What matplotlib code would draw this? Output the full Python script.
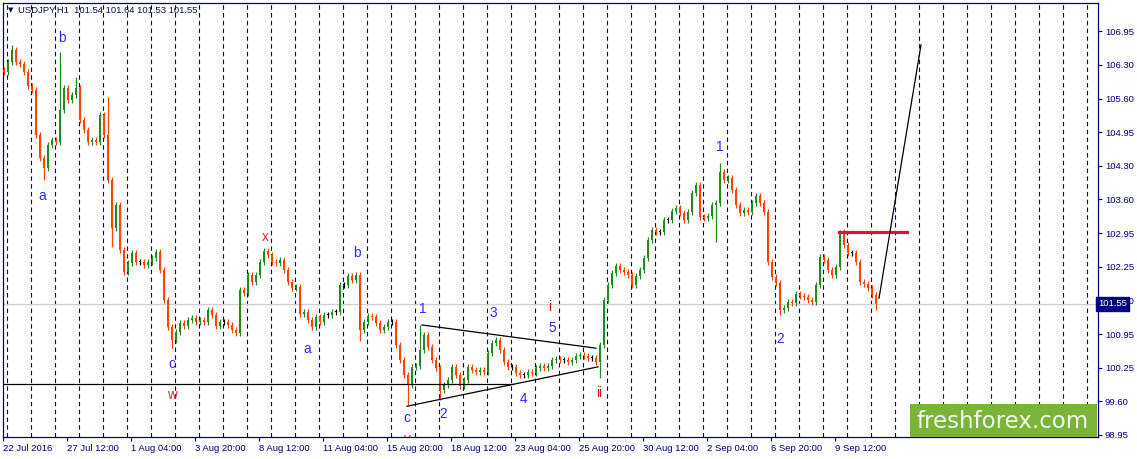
import matplotlib
matplotlib.use("Agg")
import matplotlib.pyplot as plt
from matplotlib.patches import Rectangle
import numpy as np

plt.rcParams['font.family'] = ['Liberation Sans', 'DejaVu Sans']

closes = [
    106.14, 106.34, 106.57, 106.34, 106.30, 106.14, 105.86, 105.78, 104.89, 104.44,
    104.24, 104.69, 104.79, 104.75, 105.39, 105.82, 105.58, 105.68, 105.82, 105.19,
    104.99, 104.75, 104.79, 104.75, 105.29, 104.89, 104.00, 103.05, 103.51, 102.61,
    102.18, 102.36, 102.55, 102.38, 102.38, 102.32, 102.38, 102.45, 102.57, 102.22,
    101.62, 101.09, 100.83, 100.99, 101.17, 101.11, 101.23, 101.27, 101.19, 101.23,
    101.19, 101.43, 101.33, 101.11, 101.19, 101.19, 101.13, 101.03, 100.97, 101.82,
    101.76, 102.12, 101.98, 102.12, 102.38, 102.59, 102.51, 102.38, 102.36, 102.42,
    102.22, 101.98, 101.86, 101.88, 101.35, 101.39, 101.23, 101.09, 101.29, 101.19,
    101.33, 101.33, 101.39, 101.39, 101.92, 101.92, 102.10, 102.02, 102.12, 101.03,
    101.19, 101.31, 101.29, 101.17, 101.03, 101.09, 101.19, 101.19, 100.73, 100.43,
    100.14, 99.94, 100.30, 100.32, 100.63, 100.93, 100.69, 100.43, 100.28, 99.84,
    99.94, 100.04, 100.30, 100.14, 99.92, 100.04, 100.30, 100.24, 100.20, 100.24,
    100.20, 100.57, 100.77, 100.83, 100.63, 100.40, 100.30, 100.30, 100.18, 100.14,
    100.14, 100.20, 100.18, 100.28, 100.32, 100.28, 100.32, 100.43, 100.45, 100.43,
    100.43, 100.40, 100.43, 100.51, 100.53, 100.51, 100.47, 100.47, 100.40, 100.73,
    101.62, 101.92, 102.16, 102.30, 102.22, 102.18, 102.12, 101.92, 102.10, 102.22,
    102.45, 102.81, 103.01, 102.97, 102.97, 103.21, 103.21, 103.39, 103.44, 103.35,
    103.21, 103.37, 103.74, 103.90, 103.27, 103.25, 103.29, 103.51, 103.54, 104.16,
    104.00, 104.04, 103.80, 103.51, 103.35, 103.41, 103.37, 103.54, 103.68, 103.54,
    103.37, 102.38, 102.08, 101.96, 101.43, 101.47, 101.58, 101.56, 101.74, 101.70,
    101.68, 101.62, 101.58, 101.92, 102.47, 102.42, 102.22, 102.12, 102.28, 102.97,
    102.71, 102.55, 102.55, 102.38, 101.98, 101.94, 101.86, 101.72, 101.55,
]
step = 4  # bars per sample
# notable wick extremes (sample index -> price)
spike_highs = {2: 106.67, 14: 106.53, 18: 106.04, 26: 105.64, 65: 102.66,
               104: 101.13, 123: 100.89, 179: 104.34, 209: 103.01}
spike_lows = {10: 104.00, 27: 102.68, 42: 100.67, 89: 100.81, 101: 99.54,
              109: 99.64, 149: 100.08, 178: 102.77, 194: 101.33, 218: 101.43}

last_price = 101.55
header = "USDJPY,H1  101.54 101.64 101.53 101.55"

price_ticks = [98.95 + k * 8 / 12 for k in range(13)]
price_labels = ["98.95", "99.60", "100.25", "100.95", "101.60", "102.25", "102.95",
                "103.60", "104.30", "104.95", "105.60", "106.30", "106.95"]
date_labels = ["22 Jul 2016", "27 Jul 12:00", "1 Aug 04:00", "3 Aug 20:00", "8 Aug 12:00",
               "11 Aug 04:00", "15 Aug 20:00", "18 Aug 12:00", "23 Aug 04:00", "25 Aug 20:00",
               "30 Aug 12:00", "2 Sep 04:00", "6 Sep 20:00", "9 Sep 12:00"]
bars_per_label = 64
bars_per_day = 24

# wave marks: (text, bar, price, colour)
BLUE = "#2a2aff"
RED = "#f0203a"
DARKRED = "#d81010"
waves = [
    ("b", 59, 106.81, BLUE), ("a", 39, 103.68, BLUE), ("c", 169, 100.36, BLUE),
    ("w", 169, 99.74, RED), ("x", 262, 102.87, RED), ("a", 304, 100.65, BLUE),
    ("b", 354, 102.55, BLUE), ("1", 420, 101.45, BLUE), ("3", 490, 101.36, BLUE),
    ("i", 547, 101.48, DARKRED), ("5", 549, 101.07, BLUE), ("c", 404, 99.29, BLUE),
    ("2", 440, 99.37, BLUE), ("4", 520, 99.66, BLUE), ("ii", 596, 99.78, DARKRED),
    ("1", 717, 104.65, BLUE), ("2", 777, 100.85, BLUE),
]

NAVY = "#000080"
W, H = 1137, 459
fig = plt.figure(figsize=(W / 100, H / 100), dpi=100)
ax = fig.add_axes([3 / W, (H - 437) / H, 1095 / W, 434 / H])
ax.set_xlim(0, 1095)
ax.set_ylim(98.91, 107.51)

# day separators
for xd in range(4, 1095, bars_per_day):
    ax.axvline(xd, color=NAVY, lw=0.8, ls=(0, (4, 3)), zorder=1)

ax.axhline(last_price, color="#cfcfcf", lw=0.9, zorder=1)

# candles
c = np.array(closes)
o = np.r_[c[0] + 0.05, c[:-1]]
xs = 1 + step * np.arange(len(c))
hi = np.maximum(o, c) + 0.06
lo = np.minimum(o, c) - 0.06
for k, v in spike_highs.items():
    hi[k] = v
for k, v in spike_lows.items():
    lo[k] = v
cols = np.where(c > o, "#228b22", np.where(c < o, "#ff4500", "#000000"))
ax.vlines(xs, lo, hi, colors=cols, lw=0.9, zorder=3)
ax.bar(xs, np.maximum(np.abs(c - o), 0.02), bottom=np.minimum(o, c), width=2.8,
       color=cols, linewidth=0, zorder=3)

# drawn objects
ax.plot([0, 510], [99.96, 99.96], color="black", lw=0.9, zorder=4)
ax.plot([419, 593], [101.13, 100.67], color="black", lw=0.9, zorder=4)
ax.plot([404, 595], [99.52, 100.30], color="black", lw=0.9, zorder=4)
ax.plot([836, 904], [102.97, 102.97], color="#dc143c", lw=2.3, zorder=4)
ax.plot([876, 918], [101.66, 106.68], color="black", lw=0.9, zorder=4)

for txt, xb, yp, col in waves:
    ax.text(xb, yp, txt, color=col, fontsize=9.8, ha="center", va="center", zorder=5)
ax.text(404, 98.88, "v", color=RED, fontsize=9.8, ha="center", va="center",
        zorder=5, clip_on=True)

# axes styling
for s in ax.spines.values():
    s.set_color(NAVY)
    s.set_linewidth(0.9)
ax.yaxis.tick_right()
ax.set_yticks(price_ticks)
ax.set_yticklabels(price_labels)
ax.set_xticks([k * bars_per_label for k in range(len(date_labels))])
ax.set_xticklabels(date_labels, ha="left")
ax.tick_params(axis="both", direction="out", length=3, width=0.8, color=NAVY,
               labelcolor=NAVY, labelsize=6.8)
ax.tick_params(axis="y", pad=2)
ax.tick_params(axis="x", pad=2)

ax.text(1.0, last_price, f"{last_price:.2f}", transform=ax.get_yaxis_transform(),
        color="white", fontsize=6.8, ha="left", va="center", zorder=10, clip_on=False,
        bbox=dict(boxstyle="square,pad=0.25", fc=NAVY, ec=NAVY))

# header
fig.text(8 / W, 1 - 10 / H, "\u25bc", fontsize=5, color="#10104a", va="center",
         family=["DejaVu Sans"])
fig.text(18 / W, 1 - 10 / H, header, fontsize=6.8, color="#10104a", va="center")

# watermark
fig.add_artist(Rectangle((910 / W, (H - 437) / H), 187 / W, 33 / H,
                         transform=fig.transFigure, fc="#7ab539", ec="none", zorder=20))
fig.text(1003 / W, (H - 421) / H, "freshforex.com", fontsize=16.5, color="#f4f6ec",
         ha="center", va="center", family=["DejaVu Sans"], zorder=21)

fig.savefig("out.png", dpi=100)
